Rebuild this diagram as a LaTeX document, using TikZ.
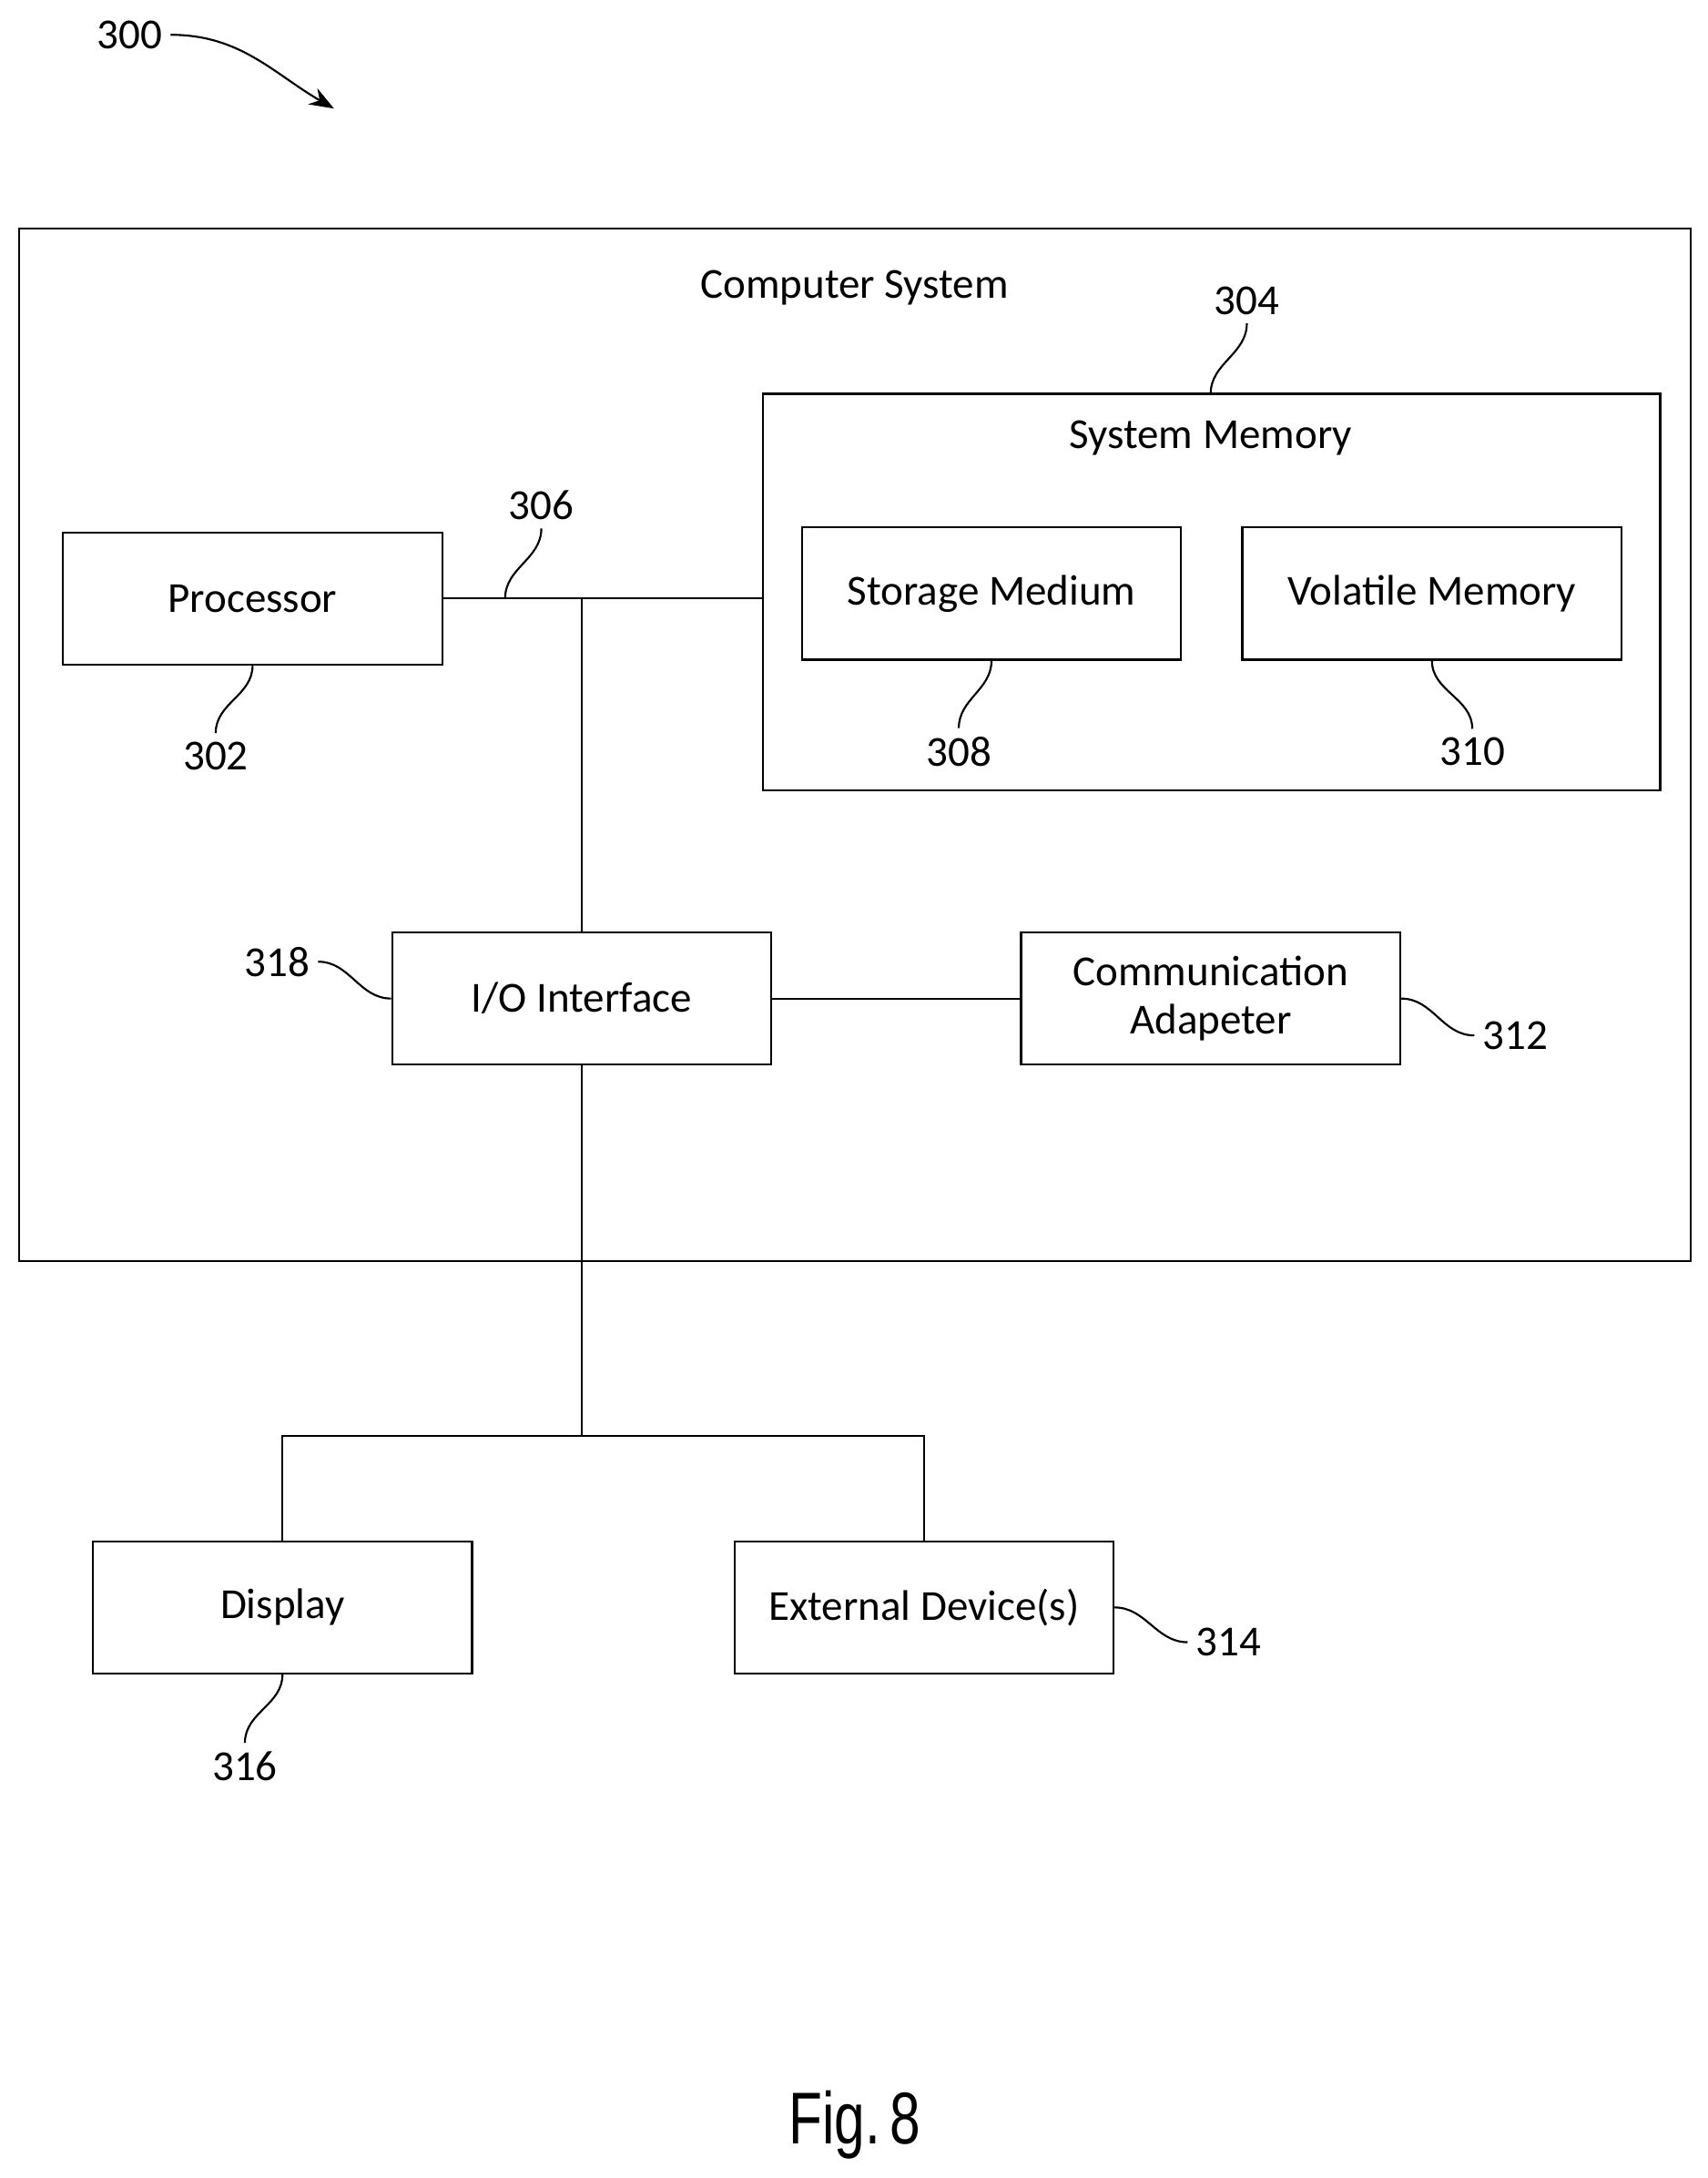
\documentclass[tikz,border=0pt]{standalone}
\usepackage{fontspec}
\setmainfont{Carlito}
\newfontfamily\figfont{Liberation Sans}
\usetikzlibrary{positioning,arrows.meta}
\tikzset{
  box/.style={draw, thick, minimum width=5.45cm, minimum height=1.9cm, align=center, font=\fontsize{17.5}{22}\selectfont},
  lbl/.style={font=\fontsize{17.5}{20}\selectfont},
  lead/.style={thick}
}
\begin{document}
\begin{tikzpicture}[x=0.02cm,y=-0.02cm]
  \useasboundingbox (0,0) rectangle (1227,1565);
  % outer system
  \draw[thick] (14,164) rectangle (1215,906);
  \node[lbl] (cs) at (614,207) {Computer System};
  \draw[thick] (548,283) rectangle (1193,568);
  \node[lbl] (sm) at (870,315) {System Memory};
  % boxes
  \node[box] (proc) at (181.5,430) {Processor};
  \node[box] (stor) at (712.5,426.5) {Storage Medium};
  \node[box] (vol) at (1029,426.5) {Volatile Memory};
  \node[box] (io) at (418,717.5) {I/O Interface};
  \node[box] (comm) at (870,717.5) {Communication\\[-2pt]Adapeter};
  \node[box] (disp) at (203,1155) {Display};
  \node[box] (ext) at (664,1155) {External Device(s)};
  % connectors
  \coordinate (mem) at (548,430);
  \coordinate (bus) at (418,430);
  \coordinate (split) at (418,1032);
  \draw[thick] (proc.east) -- (mem);
  \draw[thick] (bus) -- (io.north);
  \draw[thick] (io.east) -- (comm.west);
  \draw[thick] (io.south) -- (split);
  \draw[thick] (disp.north) |- (split) -| (ext.north);
  % reference numerals
  \node[lbl] (n300) at (93,25) {300};
  \draw[thick, -{Stealth[length=10pt]}] (n300.east) to[out=0,in=150] (240,78);
  \node[lbl] (n304) at (896,216) {304};
  \draw[lead] (870,283) to[out=90,in=-90] (n304.south);
  \node[lbl] (n306) at (389,363) {306};
  \draw[lead] (363,430) to[out=90,in=-90] (n306.south);
  \node[lbl] (n302) at (155,543) {302};
  \draw[lead] (proc.south) to[out=-90,in=90] (n302.north);
  \node[lbl] (n308) at (689,540) {308};
  \draw[lead] (stor.south) to[out=-90,in=90] (n308.north);
  \node[lbl] (n310) at (1058,540) {310};
  \draw[lead] (vol.south) to[out=-90,in=90] (n310.north);
  \node[lbl] (n318) at (199,691) {318};
  \draw[lead] (n318.east) to[out=0,in=180] (io.west);
  \node[lbl] (n312) at (1089,744) {312};
  \draw[lead] (comm.east) to[out=0,in=180] (n312.west);
  \node[lbl] (n314) at (883,1180) {314};
  \draw[lead] (ext.east) to[out=0,in=180] (n314.west);
  \node[lbl] (n316) at (176,1269) {316};
  \draw[lead] (disp.south) to[out=-90,in=90] (n316.north);
  % caption
  \node[font=\figfont\fontsize{30}{34}\selectfont, xscale=0.75, inner sep=0pt] (fig) at (614,1527) {Fig.\,8};
\end{tikzpicture}
\end{document}
